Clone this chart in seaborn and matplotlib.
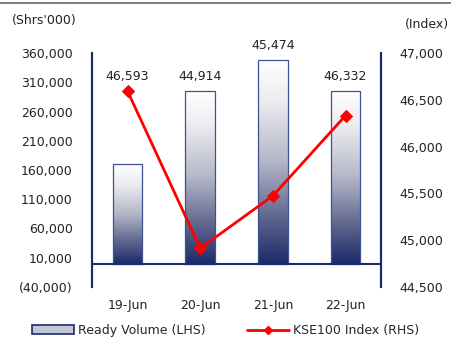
import matplotlib
matplotlib.use("Agg")
import numpy as np
import pandas as pd
import matplotlib.pyplot as plt
import seaborn as sns
from matplotlib.colors import LinearSegmentedColormap
from matplotlib.lines import Line2D
from matplotlib.patches import Patch
from matplotlib.ticker import FuncFormatter

# chart values
dates = ['19-Jun', '20-Jun', '21-Jun', '22-Jun']
ready_volume = [170700, 295000, 348000, 295000]
kse100 = [46593, 44914, 45474, 46332]

NAVY = '#1c2a6b'
RED = '#ff0000'
TXT = '#222222'

df = pd.DataFrame({'date': dates, 'volume': ready_volume, 'index': kse100})

sns.set_theme(style='white')
plt.rcParams['font.family'] = ['DejaVu Sans']

fig = plt.figure(figsize=(4.51, 3.38), dpi=100)
ax = fig.add_axes([0.204, 0.151, 0.641, 0.692])
ax2 = ax.twinx()

sns.barplot(data=df, x='date', y='volume', ax=ax, width=0.41,
            color='white', edgecolor='#3f5190', linewidth=0.9, zorder=2)

# gradient fill of the bars (white at top, navy at bottom)
cmap = LinearSegmentedColormap.from_list(
    'vol', [(0, NAVY), (0.22, '#5d648c'), (0.5, '#b3b6c7'),
            (0.8, '#ececf0'), (1, '#ffffff')])
grad = np.linspace(0, 1, 256).reshape(-1, 1)
for bar in ax.patches:
    bar.set_facecolor('none')
    x0, w, h = bar.get_x(), bar.get_width(), bar.get_height()
    im = ax.imshow(grad, extent=[x0, x0 + w, 0, h], origin='lower',
                   aspect='auto', cmap=cmap, zorder=1.9)
    im.set_clip_path(bar)
ax.set_xlim(-0.49, 3.49)
ax.set_ylim(-40000, 360000)

ax.axhline(0, color=NAVY, lw=1.5, zorder=3)

ax.set_yticks(np.arange(-40000, 360001, 50000))
ax.yaxis.set_major_formatter(FuncFormatter(
    lambda v, p: f'({abs(v):,.0f})' if v < 0 else f'{v:,.0f}'))
ax.set_xlabel('')
ax.set_ylabel('')
ax.tick_params(axis='y', length=0, pad=14, labelsize=9, colors=TXT)
ax.tick_params(axis='x', length=0, pad=9, labelsize=9, colors=TXT)

sns.lineplot(data=df, x='date', y='index', ax=ax2, sort=False, color=RED,
             lw=2, marker='D', markersize=6.5, markeredgecolor=RED, zorder=4)
ax2.set_ylim(44500, 47000)
ax2.set_yticks(np.arange(44500, 47001, 500))
ax2.yaxis.set_major_formatter(FuncFormatter(lambda v, p: f'{v:,.0f}'))
ax2.set_ylabel('')
ax2.tick_params(axis='y', length=0, pad=13, labelsize=9, colors=TXT)
ax2.grid(False)
ax.grid(False)

for a in (ax, ax2):
    for side in ('top', 'bottom'):
        a.spines[side].set_visible(False)
    for side in ('left', 'right'):
        a.spines[side].set_color(NAVY)
        a.spines[side].set_linewidth(1.5)

# value labels above the highest mark of each day
for i, (vol, idx) in enumerate(zip(ready_volume, kse100)):
    line_on_left = -40000 + (idx - 44500) / 2500 * 400000
    top = max(vol, line_on_left)
    ax.annotate(f'{idx:,}', (i, top), xytext=(0, 6), textcoords='offset points',
                ha='center', va='bottom', fontsize=9, color=TXT)

fig.text(0.027, 0.94, "(Shrs'000)", fontsize=9, color=TXT, va='center')
fig.text(0.995, 0.928, '(Index)', fontsize=9, color=TXT, va='center', ha='right')

handles = [Patch(facecolor='#c3c6d6', edgecolor=NAVY, linewidth=1.2),
           Line2D([0], [0], color=RED, lw=2, marker='D', markersize=4)]
fig.legend(handles, ['Ready Volume (LHS)', 'KSE100 Index (RHS)'],
           loc='lower center', bbox_to_anchor=(0.5, -0.03), ncol=2,
           frameon=False, fontsize=9, handlelength=3.4, columnspacing=3.3,
           handletextpad=0.3)

fig.add_artist(Line2D([0, 1], [0.99, 0.99], color='#666666', lw=1.2,
                      transform=fig.transFigure))

fig.savefig('out.png', dpi=100)
